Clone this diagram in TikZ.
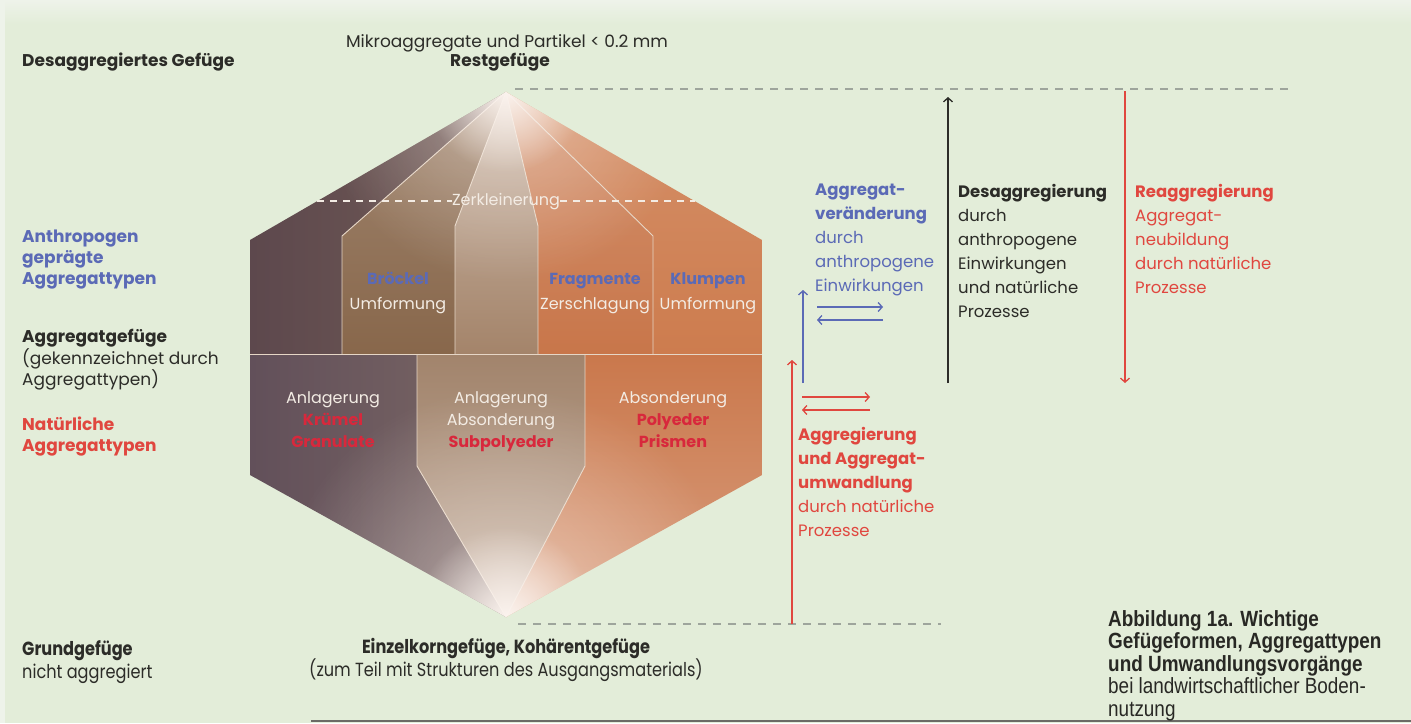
\documentclass[tikz,border=0pt]{standalone}
\usepackage{fontspec}
\setmainfont{Poppins}
\newfontfamily\condfont[FakeStretch=0.85]{Poppins}
\newfontfamily\capfont[FakeStretch=0.86]{Liberation Sans}
\usetikzlibrary{arrows.meta,fadings}
\definecolor{bgc}{HTML}{E3EDD9}
\definecolor{bgtop}{HTML}{EEF3EA}
\definecolor{txtdark}{HTML}{2C2C28}
\definecolor{txtblue}{HTML}{5B6AB6}
\definecolor{txtred}{HTML}{E0473F}
\definecolor{hexred}{HTML}{D8283C}
\definecolor{hexwhite}{HTML}{F3ECE4}
\definecolor{dashgray}{HTML}{9EA59C}
\definecolor{sepline}{HTML}{E6D6C6}
\definecolor{cAl}{HTML}{5D484D}
\definecolor{cAr}{HTML}{725C56}
\definecolor{cB}{HTML}{88674B}
\definecolor{cC}{HTML}{A4846A}
\definecolor{cD}{HTML}{C8764A}
\definecolor{cE}{HTML}{CD7C4E}
\definecolor{dAl}{HTML}{62505A}
\definecolor{dAr}{HTML}{7A6664}
\definecolor{dB}{HTML}{A2846C}
\definecolor{dC}{HTML}{CA784C}
\definecolor{glowc}{HTML}{FBF3EE}
\definecolor{scanline}{HTML}{6B6B66}
\tikzfading[name=glowfade, inner color=transparent!0, outer color=transparent!100]
\begin{document}
\begin{tikzpicture}[x=1pt,y=-1pt,
  lbl/.style={inner sep=0pt, anchor=north west, align=left, font=\fontsize{17}{20}\selectfont},
  rblk/.style={inner sep=0pt, anchor=north west, align=left, font=\fontsize{16.5}{24}\selectfont},
  hextxt/.style={inner sep=0pt, text height=12pt, text depth=4pt, font=\fontsize{16}{20}\selectfont, text=hexwhite},
  hexbold/.style={hextxt, font=\fontsize{16}{20}\selectfont\bfseries},
  one/.style={inner sep=0pt, text height=12pt, text depth=4pt, font=\fontsize{17}{20}\selectfont, text=txtdark},
  sep/.style={draw=sepline, line width=0.9pt},
  arr/.style={line width=1.4pt, -{Straight Barb[length=4pt,width=9pt,line width=1.3pt]}},
  refdash/.style={draw=dashgray, line width=1.3pt, dash pattern=on 8pt off 7pt},
  zkdash/.style={draw=hexwhite, line width=1.1pt, dash pattern=on 7pt off 6pt},
]
\useasboundingbox (0,0) rectangle (1411,723);
\fill[bgc] (0,0) rectangle (1411,723);
\shade[top color=bgtop, bottom color=bgc] (0,0) rectangle (1411,24);
\fill[bgtop] (0,0) rectangle (5,723);

% ---------- hexagon geometry ----------
\coordinate (T) at (506,92);
\coordinate (Bt) at (506,617);
\coordinate (L1) at (250,240);
\coordinate (R1) at (762,240);
\coordinate (L2) at (250,475);
\coordinate (R2) at (762,475);
\coordinate (Lm) at (250,354);
\coordinate (Rm) at (762,354);
\coordinate (A0) at (342,354); \coordinate (A1) at (342,236);
\coordinate (B0) at (455,354); \coordinate (B1) at (455,226);
\coordinate (C0) at (538,354); \coordinate (C1) at (538,226);
\coordinate (D0) at (653,354); \coordinate (D1) at (653,236);
\coordinate (E0) at (417,354); \coordinate (E1) at (417,466);
\coordinate (F0) at (585,354); \coordinate (F1) at (585,466);

% upper row
\shade[left color=cAl, right color=cAr] (Lm) -- (L1) -- (T) -- (A1) -- (A0) -- cycle;
\shade[top color=cB!80!white, middle color=cB, bottom color=cB] (A0) -- (A1) -- (T) -- (B1) -- (B0) -- cycle;
\shade[top color=cC!55!white, middle color=cC, bottom color=cC] (B0) -- (B1) -- (T) -- (C1) -- (C0) -- cycle;
\shade[top color=cD!80!white, middle color=cD, bottom color=cD] (C0) -- (C1) -- (T) -- (D1) -- (D0) -- cycle;
\shade[top color=cE!85!white, middle color=cE, bottom color=cE] (D0) -- (D1) -- (T) -- (R1) -- (Rm) -- cycle;
% lower row
\shade[left color=dAl, right color=dAr] (Lm) -- (E0) -- (E1) -- (Bt) -- (L2) -- cycle;
\shade[top color=dB, middle color=dB!95!white, bottom color=dB!65!white] (E0) -- (F0) -- (F1) -- (Bt) -- (E1) -- cycle;
\shade[top color=dC, middle color=dC!95!white, bottom color=dC!72!white] (F0) -- (Rm) -- (R2) -- (Bt) -- (F1) -- cycle;

% separators
\draw[sep] (Lm) -- (Rm);
\draw[sep] (A0) -- (A1) -- (T);
\draw[sep] (B0) -- (B1) -- (T);
\draw[sep] (C0) -- (C1) -- (T);
\draw[sep] (D0) -- (D1) -- (T);
\draw[sep] (E0) -- (E1) -- (Bt);
\draw[sep] (F0) -- (F1) -- (Bt);

% soft glows at both apexes
\begin{scope}
  \clip (T) -- (R1) -- (R2) -- (Bt) -- (L2) -- (L1) -- cycle;
  \fill[glowc, path fading=glowfade, opacity=0.45] (T) circle (190);
  \fill[glowc, path fading=glowfade] (T) circle (80);
  \fill[glowc, path fading=glowfade, opacity=0.5] (Bt) circle (230);
  \fill[glowc, path fading=glowfade] (Bt) circle (90);
\end{scope}

% Zerkleinerung
\node[hextxt] (zk) at (506,201) {Zerkleinerung};
\coordinate (zkL) at (317,201);
\coordinate (zkR) at (695,201);
\draw[zkdash] (zkL) -- (zk.west);
\draw[zkdash] (zk.east) -- (zkR);

% upper row texts
\node[hexbold, text=txtblue] (broe) at (398,280) {Bröckel};
\node[hextxt] (umf1) at (398,305) {Umformung};
\node[hexbold, text=txtblue] (frag) at (595,280) {Fragmente};
\node[hextxt] (zers) at (595,305) {Zerschlagung};
\node[hexbold, text=txtblue] (klum) at (708,280) {Klumpen};
\node[hextxt] (umf2) at (708,305) {Umformung};

% lower row texts
\node[hextxt] (anl1) at (333,399) {Anlagerung};
\node[hexbold, text=hexred] (krue) at (333,421) {Krümel};
\node[hexbold, text=hexred] (gran) at (333,443) {Granulate};
\node[hextxt] (anl2) at (501,399) {Anlagerung};
\node[hextxt] (abs1) at (501,421) {Absonderung};
\node[hexbold, text=hexred] (subp) at (501,443) {Subpolyeder};
\node[hextxt] (abs2) at (673,399) {Absonderung};
\node[hexbold, text=hexred] (poly) at (673,421) {Polyeder};
\node[hexbold, text=hexred] (pris) at (673,443) {Prismen};

% ---------- top labels ----------
\node[one] (mikro) at (507,43) {Mikroaggregate und Partikel < 0.2 mm};
\node[one, font=\fontsize{17}{20}\selectfont\bfseries] (rest) at (500,62) {Restgefüge};
\node[one, anchor=west, font=\fontsize{17}{20}\selectfont\bfseries] (desag) at (22,62) {Desaggregiertes Gefüge};

% ---------- reference dashed lines ----------
\coordinate (tdL) at (515,89); \coordinate (tdR) at (1294,89);
\draw[refdash] (tdL) -- (tdR);
\coordinate (bdL) at (518,624); \coordinate (bdR) at (941,624);
\draw[refdash] (bdL) -- (bdR);

% ---------- left labels ----------
\node[lbl, text=txtblue, font=\fontsize{17}{21}\selectfont\bfseries] (anthro) at (22,230) {Anthropogen\\geprägte\\Aggregattypen};
\node[lbl, text=txtdark] (aggf) at (22,329) {\textbf{Aggregatgefüge}\\(gekennzeichnet durch\\Aggregattypen)};
\node[lbl, text=txtred, font=\fontsize{17}{21}\selectfont\bfseries] (natur) at (22,417) {Natürliche\\Aggregattypen};

% ---------- right blocks ----------
\node[rblk, text=txtblue] (blueblk) at (815,184) {\textbf{Aggregat-}\\\textbf{veränderung}\\durch\\anthropogene\\Einwirkungen};
\node[rblk, text=txtdark] (desblk) at (958,184) {\textbf{Desaggregierung}\\durch\\anthropogene\\Einwirkungen\\und natürliche\\Prozesse};
\node[rblk, text=txtred] (reablk) at (1135,184) {\textbf{Reaggregierung}\\Aggregat-\\neubildung\\durch natürliche\\Prozesse};
\node[rblk, text=txtred] (aggblk) at (798,427) {\textbf{Aggregierung}\\\textbf{und Aggregat-}\\\textbf{umwandlung}\\durch natürliche\\Prozesse};

% ---------- arrows ----------
\coordinate (bu0) at (803,383); \coordinate (bu1) at (803,290);
\draw[arr, txtblue] (bu0) -- (bu1);
\coordinate (bp1a) at (817,307); \coordinate (bp1b) at (883,307);
\coordinate (bp2a) at (883,320); \coordinate (bp2b) at (817,320);
\draw[arr, txtblue] (bp1a) -- (bp1b);
\draw[arr, txtblue] (bp2a) -- (bp2b);
\coordinate (ru0) at (792,624); \coordinate (ru1) at (792,360);
\draw[arr, txtred] (ru0) -- (ru1);
\coordinate (rp1a) at (802,397); \coordinate (rp1b) at (870,397);
\coordinate (rp2a) at (870,410); \coordinate (rp2b) at (802,410);
\draw[arr, txtred] (rp1a) -- (rp1b);
\draw[arr, txtred] (rp2a) -- (rp2b);
\coordinate (ku0) at (948,383); \coordinate (ku1) at (948,97);
\draw[arr, txtdark, line width=1.8pt] (ku0) -- (ku1);
\coordinate (rd0) at (1125,91); \coordinate (rd1) at (1125,383);
\draw[arr, txtred] (rd0) -- (rd1);

% ---------- bottom labels ----------
\node[inner sep=0pt, anchor=north west, align=left, text=txtdark, font=\fontsize{19}{23}\selectfont\condfont] (grund) at (22,640) {\textbf{Grundgefüge}\\nicht aggregiert};
\node[inner sep=0pt, text height=13pt, text depth=4pt, text=txtdark, font=\fontsize{19}{23}\selectfont\condfont\bfseries] (einzel) at (506,649) {Einzelkorngefüge, Kohärentgefüge};
\node[inner sep=0pt, text height=13pt, text depth=4pt, text=txtdark, font=\fontsize{19}{23}\selectfont\condfont] (zumteil) at (506,672) {(zum Teil mit Strukturen des Ausgangsmaterials)};

% scan line at the bottom
\coordinate (slL) at (311,721); \coordinate (slR) at (1411,721);
\draw[scanline, line width=1.6pt] (slL) -- (slR);

% caption
\node[inner sep=0pt, anchor=north west, align=left, text=txtdark!90!black, font=\fontsize{22}{22.5}\selectfont\capfont] (capt) at (1108,610) {\textbf{Abbildung 1a. Wichtige}\\\textbf{Gefügeformen, Aggregattypen}\\\textbf{und Umwandlungsvorgänge}\\bei landwirtschaftlicher Boden-\\nutzung};
\end{tikzpicture}
\end{document}
